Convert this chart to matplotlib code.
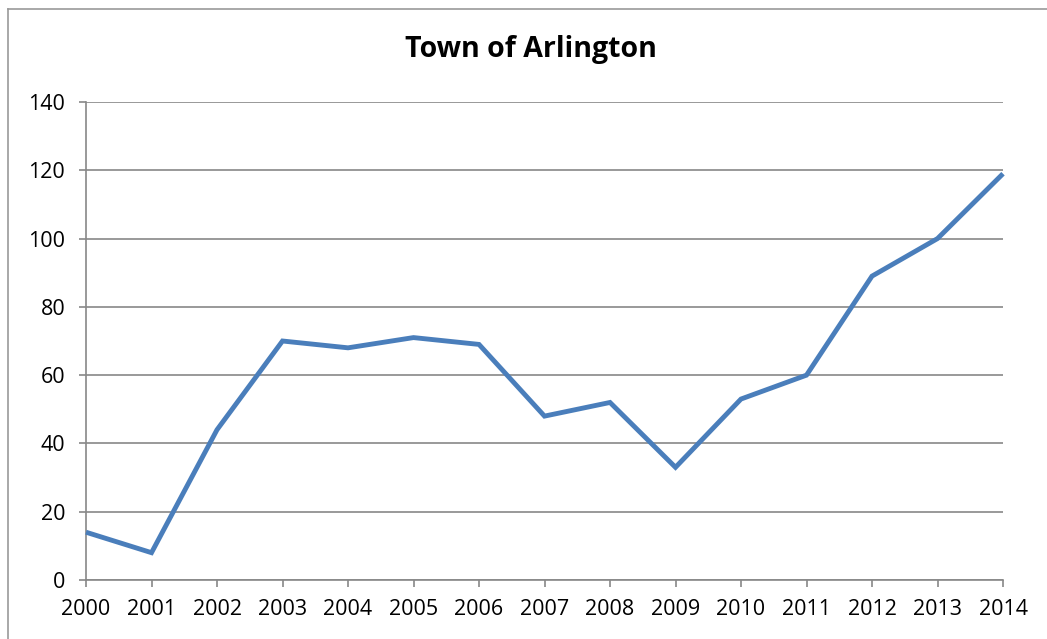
import matplotlib
matplotlib.use("Agg")
import matplotlib.pyplot as plt
from matplotlib.lines import Line2D

years = [2000, 2001, 2002, 2003, 2004, 2005, 2006, 2007, 2008, 2009, 2010, 2011, 2012, 2013, 2014]
values = [14, 8, 44, 70, 68, 71, 69, 48, 52, 33, 53, 60, 89, 100, 119]
yticks = [0, 20, 40, 60, 80, 100, 120, 140]
title = "Town of Arlington"

plt.rcParams['font.family'] = ['Open Sans', 'DejaVu Sans']

fig = plt.figure(figsize=(10.47, 6.39), dpi=100)
ax = fig.add_axes([86/1047, 1 - 580/639, (1003-86)/1047, (580-102)/639])

grey = '#888888'
ax.plot(years, values, color='#4A7EBB', linewidth=3.5, solid_joinstyle='miter', solid_capstyle='butt', zorder=3, clip_on=False)
ax.set_xlim(2000, 2014)
ax.set_ylim(0, 140)
ax.set_xticks(years)
ax.set_xticklabels([str(y) for y in years])
ax.set_yticks(yticks)
ax.grid(axis='y', color=grey, linewidth=1.2)
ax.set_axisbelow(True)
for s in ['top', 'right']:
    ax.spines[s].set_visible(False)
for s in ['left', 'bottom']:
    ax.spines[s].set_color(grey)
    ax.spines[s].set_linewidth(1.2)
ax.tick_params(axis='both', colors=grey, labelcolor='black', labelsize=15.5, length=5, width=1.2, direction='out')
ax.tick_params(axis='x', pad=9)
ax.tick_params(axis='y', pad=10)

fig.text(531/1047, 1 - 50/639, title, ha='center', va='center', fontsize=20.5, fontweight='bold')

# outer frame (left and top edges visible)
fig.add_artist(Line2D([8/1047, 8/1047], [0, 1 - 9/639], transform=fig.transFigure, color='#999999', linewidth=1.2))
fig.add_artist(Line2D([8/1047, 1], [1 - 9/639, 1 - 9/639], transform=fig.transFigure, color='#999999', linewidth=1.2))

fig.savefig('out.png', dpi=100)
